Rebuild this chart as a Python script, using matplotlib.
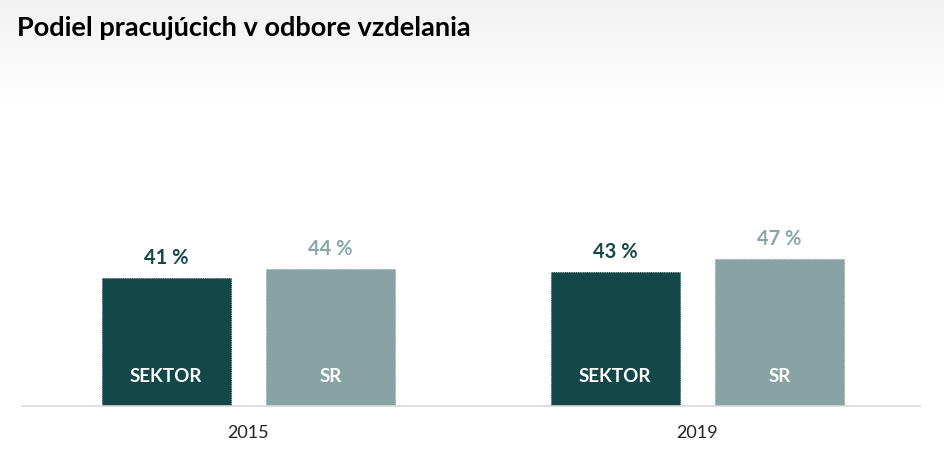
import numpy as np
import matplotlib.pyplot as plt

# data
years = ['2015', '2019']
sektor = [41, 43]
sr = [44, 47]
series_names = ['SEKTOR', 'SR']

dark = '#144848'
grey = '#88a3a3'
grey_txt = '#8aa6a6'

plt.rcParams['font.family'] = ['Lato', 'DejaVu Sans']

W, H = 945, 464
fig = plt.figure(figsize=(W/100, H/100), dpi=100)

# gradient background at the top
bg = fig.add_axes([0, 0, 1, 1], zorder=0)
grad = np.ones((H, 1))
top = np.linspace(0.945, 1.0, 115)
grad[:115, 0] = top
bg.imshow(grad, aspect='auto', cmap='gray', vmin=0, vmax=1, extent=[0, 1, 0, 1])
bg.set_axis_off()

# main axes: x from 22 to 920 px, baseline at 407 px
x0, x1 = 22, 920
y_base = 407
px_per_unit = 3.12
y_top = 200
ax = fig.add_axes([x0/W, 1 - y_base/H, (x1-x0)/W, (y_base-y_top)/H], zorder=1)
ax.patch.set_alpha(0)
ax.set_xlim(-0.504, 1.496)
ax.set_ylim(0, (y_base - y_top)/px_per_unit)

x = np.arange(len(years))
w = 0.287
off = 0.183
b1 = ax.bar(x - off, sektor, w, color=dark, edgecolor='#0f3c3c', linewidth=0.6, linestyle=':')
b2 = ax.bar(x + off, sr, w, color=grey, edgecolor='#7c9696', linewidth=0.6, linestyle=':')

for bars, vals, col in [(b1, sektor, dark), (b2, sr, grey_txt)]:
    for r, v in zip(bars, vals):
        cx = r.get_x() + r.get_width()/2
        ax.annotate(f'{v} %', (cx, v), xytext=(0, 8), textcoords='offset points',
                    ha='center', va='bottom', fontsize=14.5, fontweight='bold', color=col)

for bars, name in [(b1, series_names[0]), (b2, series_names[1])]:
    for r in bars:
        cx = r.get_x() + r.get_width()/2
        ax.annotate(name, (cx, 0), xytext=(0, 31), textcoords='offset pixels',
                    ha='center', va='center', fontsize=13.5, fontweight='bold', color='white')

for s in ['top', 'right', 'left']:
    ax.spines[s].set_visible(False)
ax.spines['bottom'].set_color('#d9d9d9')
ax.spines['bottom'].set_linewidth(1.2)
ax.set_yticks([])
ax.set_xticks(x)
ax.set_xticklabels(years, fontsize=13, color='#222222')
ax.tick_params(axis='x', length=0, pad=13)

fig.text(17/W, 1 - 28/H, 'Podiel pracujúcich v odbore vzdelania', fontsize=19.5,
         fontweight='bold', color='black', ha='left', va='center')

fig.savefig('out.png', dpi=100)
